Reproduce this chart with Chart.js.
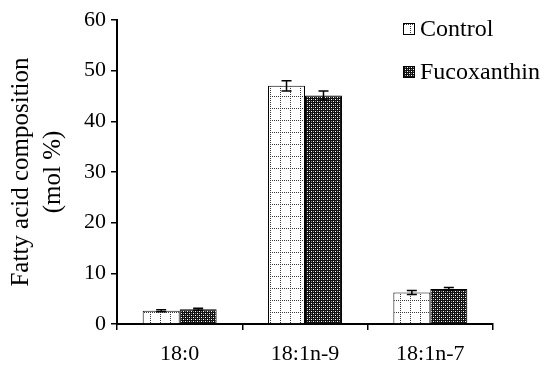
<!DOCTYPE html>
<html>
<head>
<meta charset="utf-8">
<script src="https://cdn.jsdelivr.net/npm/chart.js@4.4.0/dist/chart.umd.min.js"></script>
<style>
  html, body { margin: 0; padding: 0; background: #ffffff; }
  #wrap { width: 544px; height: 367px; }
</style>
</head>
<body>
<div id="wrap"><canvas id="c" width="544" height="367"></canvas></div>
<script>
// ---- data ----
const categories = ['18:0', '18:1n-9', '18:1n-7'];
const seriesNames = ['Control', 'Fucoxanthin'];
const controlValues = [2.6, 47.0, 6.2];
const fucoxanthinValues = [2.9, 45.1, 6.9];
const controlErrors = [0.2, 1.0, 0.4];
const fucoxanthinErrors = [0.2, 0.9, 0.3];
const yTicks = [0, 10, 20, 30, 40, 50, 60];

// ---- patterns ----
function makeControlPattern(g0) {
  const t = document.createElement('canvas');
  t.width = 10; t.height = 12;
  const g = t.getContext('2d');
  g.fillStyle = '#ffffff';
  g.fillRect(0, 0, 10, 12);
  g.fillStyle = '#3a3a3a';
  for (let x = 0; x < 10; x += 2) g.fillRect(x, 0, 1, 1);
  for (let y = 0; y < 12; y += 2) g.fillRect(0, y, 1, 1);
  return g0.createPattern(t, 'repeat');
}
function makeFucoPattern(g0) {
  const t = document.createElement('canvas');
  t.width = 4; t.height = 4;
  const g = t.getContext('2d');
  g.fillStyle = '#111111';
  g.fillRect(0, 0, 4, 4);
  g.fillStyle = '#ffffff';
  g.fillRect(1, 1, 1, 1);
  g.fillRect(3, 3, 1, 1);
  g.fillStyle = '#8a8a8a';
  g.fillRect(3, 1, 1, 1);
  g.fillRect(1, 3, 1, 1);
  return g0.createPattern(t, 'repeat');
}

const FONT = "'Liberation Serif', 'Times New Roman', Times, serif";

const errorBarPlugin = {
  id: 'errorBars',
  afterDatasetsDraw(chart) {
    const c = chart.ctx;
    const yS = chart.scales.y;
    const errs = [controlErrors, fucoxanthinErrors];
    c.save();
    c.strokeStyle = '#000000';
    c.lineWidth = 1.5;
    chart.data.datasets.forEach((ds, i) => {
      const meta = chart.getDatasetMeta(i);
      meta.data.forEach((bar, j) => {
        const v = ds.data[j], e = errs[i][j];
        const yT = yS.getPixelForValue(v + e);
        const yB = yS.getPixelForValue(v - e);
        const x = bar.x;
        c.beginPath();
        c.moveTo(x, yT); c.lineTo(x, yB);
        c.moveTo(x - 5, yT); c.lineTo(x + 5, yT);
        c.moveTo(x - 5, yB); c.lineTo(x + 5, yB);
        c.stroke();
      });
    });
    c.restore();
  }
};

const legendPlugin = {
  id: 'customLegend',
  afterDraw(chart) {
    const c = chart.ctx;
    c.save();
    c.font = '24px ' + FONT;
    c.textBaseline = 'middle';
    c.textAlign = 'left';
    const rows = [29, 72];
    chart.data.datasets.forEach((ds, i) => {
      const y = rows[i];
      c.fillStyle = ds.backgroundColor;
      c.fillRect(403, y - 6, 12, 12);
      c.strokeStyle = '#000';
      c.lineWidth = 1;
      c.strokeRect(403.5, y - 5.5, 11, 11);
      c.fillStyle = '#000';
      c.fillText(ds.label, 420, y + 1);
    });
    c.restore();
  }
};

function build() {
  const ctx = document.getElementById('c').getContext('2d');
  const controlPattern = makeControlPattern(ctx);
  const fucoPattern = makeFucoPattern(ctx);
  new Chart(ctx, {
    type: 'bar',
    data: {
      labels: categories,
      datasets: [
        { label: seriesNames[0], data: controlValues, backgroundColor: controlPattern, borderColor: '#000', borderWidth: 1 },
        { label: seriesNames[1], data: fucoxanthinValues, backgroundColor: fucoPattern, borderColor: '#000', borderWidth: 1 }
      ]
    },
    options: {
      responsive: false,
      animation: false,
      devicePixelRatio: 1,
      layout: { padding: { left: 0, right: 51, top: 20, bottom: 0 } },
      datasets: { bar: { categoryPercentage: 0.59, barPercentage: 1.0 } },
      plugins: { legend: { display: false }, tooltip: { enabled: false } },
      scales: {
        x: {
          afterFit(s) { s.height = 43; },
          grid: { display: true, drawOnChartArea: false, drawTicks: true, tickLength: 6, color: '#000', lineWidth: 1.5, offset: true },
          border: { display: true, color: '#000', width: 2 },
          ticks: { color: '#000', font: { family: FONT, size: 22 }, padding: 11 }
        },
        y: {
          min: 0, max: 60,
          afterFit(s) { s.width = 117; },
          afterBuildTicks(s) { s.ticks = yTicks.map(v => ({ value: v })); },
          grid: { display: true, drawOnChartArea: false, drawTicks: true, tickLength: 6, color: '#000', lineWidth: 1.5 },
          border: { display: true, color: '#000', width: 2 },
          ticks: { color: '#000', font: { family: FONT, size: 22 }, padding: 5 },
          title: {
            display: true,
            text: ['Fatty acid composition', '(mol %)'],
            color: '#000',
            font: { family: FONT, size: 25, lineHeight: 1.3 },
            padding: { top: 5, bottom: 0 }
          }
        }
      }
    },
    plugins: [errorBarPlugin, legendPlugin]
  });
}

if (document.fonts && document.fonts.load) {
  Promise.all([
    document.fonts.load("22px 'Liberation Serif'"),
    document.fonts.load("25px 'Liberation Serif'")
  ]).then(build, build);
} else {
  build();
}
</script>
</body>
</html>
